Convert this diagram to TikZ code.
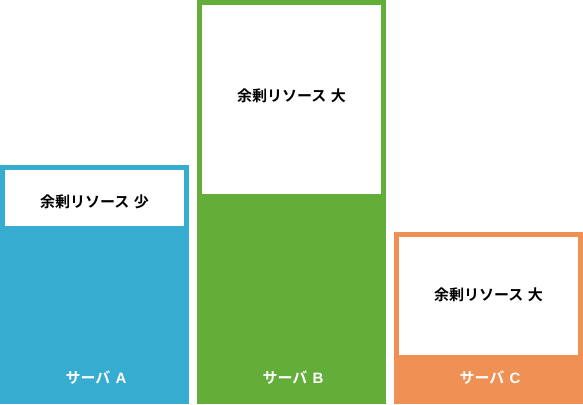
\documentclass[tikz,border=0pt]{standalone}
\usepackage{fontspec}
\setmainfont{Noto Sans CJK JP}[BoldFont={Noto Sans CJK JP Bold}]
\newfontfamily\latinfont{Liberation Sans}
\definecolor{srvA}{RGB}{55,172,209}
\definecolor{srvB}{RGB}{99,174,56}
\definecolor{srvC}{RGB}{239,145,85}
\begin{document}
\begin{tikzpicture}[x=1pt,y=-1pt,
  free/.style={fill=white,draw=none},
  freetext/.style={font=\fontsize{15}{17}\selectfont\bfseries,text=black,inner sep=0pt},
  srvlabel/.style={font=\fontsize{15}{17}\selectfont\bfseries,text=white,inner sep=0pt}]
\useasboundingbox (0,0) rectangle (583,404);
% bars
\fill[srvA] (0,165) rectangle (189,404);
\fill[srvB] (197,0) rectangle (386,404);
\fill[srvC] (394,232) rectangle (583,404);
% free areas
\fill[free] (5,170) rectangle (184,226);
\fill[free] (202,5) rectangle (381,194);
\fill[free] (399,237) rectangle (578,355);
% texts
\node[freetext] (fa) at (94.5,201.5) {余剰リソース\hspace{0.3em}少};
\node[freetext] (fb) at (291.5,96) {余剰リソース\hspace{0.3em}大};
\node[freetext] (fc) at (488.5,295) {余剰リソース\hspace{0.3em}大};
\node[srvlabel] (la) at (96,378) {サーバ\hspace{0.35em}{\latinfont A}};
\node[srvlabel] (lb) at (293,378) {サーバ\hspace{0.35em}{\latinfont B}};
\node[srvlabel] (lc) at (490,378) {サーバ\hspace{0.35em}{\latinfont C}};
\end{tikzpicture}
\end{document}
